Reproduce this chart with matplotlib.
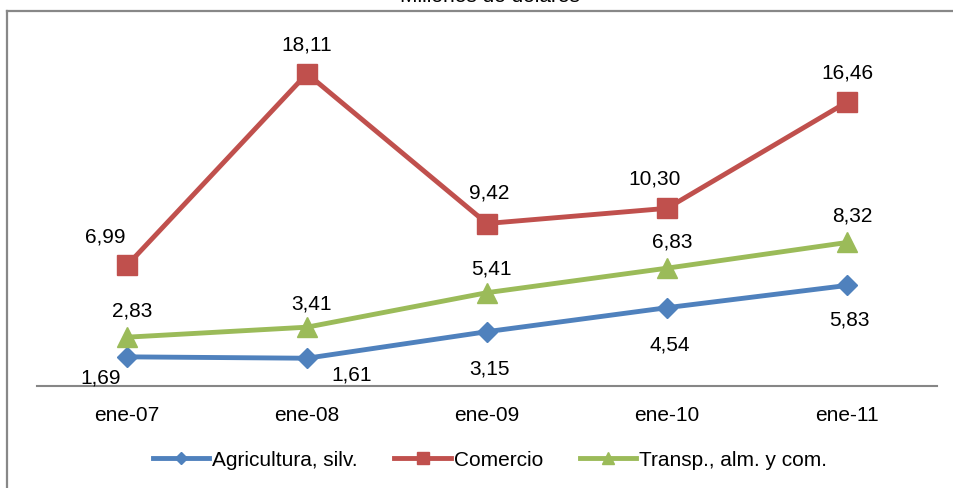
import matplotlib
matplotlib.use("Agg")
import matplotlib.pyplot as plt
from matplotlib.lines import Line2D

plt.rcParams['font.family'] = ['Liberation Sans', 'DejaVu Sans']

categories = ["ene-07", "ene-08", "ene-09", "ene-10", "ene-11"]
agricultura = [1.69, 1.61, 3.15, 4.54, 5.83]
comercio = [6.99, 18.11, 9.42, 10.30, 16.46]
transporte = [2.83, 3.41, 5.41, 6.83, 8.32]
series_names = ["Agricultura, silv.", "Comercio", "Transp., alm. y com."]
title = "Millones de dólares"

W, H = 954, 489
fig = plt.figure(figsize=(W / 100, H / 100), dpi=100)
ax = fig.add_axes([37 / W, (H - 387) / H, 900 / W, 345 / H])

x = [i + 0.5 for i in range(len(categories))]
blue, red, green = "#4F81BD", "#C0504D", "#9BBB59"

ax.plot(x, agricultura, color=blue, lw=3.5, marker="D", ms=10, label=series_names[0])
ax.plot(x, comercio, color=red, lw=3.5, marker="s", ms=14, label=series_names[1])
ax.plot(x, transporte, color=green, lw=3.5, marker="^", ms=14.5, label=series_names[2])

def fmt(v):
    return f"{v:.2f}".replace(".", ",")

fs = 15
# label offsets in points (dx, dy)
off_agri = [(-19, -14.5), (32, -11.5), (2, -26.5), (2, -26), (2, -24.5)]
off_com = [(-16, 21), (0, 21), (1.5, 23), (-9, 22), (0, 21.5)]
off_tra = [(3.5, 19.5), (3, 17.5), (3, 18), (3.5, 19.5), (4, 19.5)]
for vals, offs in ((agricultura, off_agri), (comercio, off_com), (transporte, off_tra)):
    for xi, v, (dx, dy) in zip(x, vals, offs):
        ax.annotate(fmt(v), (xi, v), xytext=(dx, dy), textcoords="offset points",
                    ha="center", va="center", fontsize=fs, color="black")

ax.set_xlim(0, 5)
ax.set_ylim(0, 20)
ax.set_xticks(x)
ax.set_xticklabels(categories, fontsize=fs)
ax.tick_params(axis="x", length=0, pad=13.5)
ax.set_yticks([])
for s in ("top", "right", "left"):
    ax.spines[s].set_visible(False)
ax.spines["bottom"].set_color("#868686")
ax.spines["bottom"].set_linewidth(1.5)

leg = fig.legend(loc="center", bbox_to_anchor=(490 / W, (H - 461) / H), ncol=3,
                 frameon=False, fontsize=fs, handlelength=2.7, handletextpad=0.15,
                 columnspacing=1.75, markerscale=0.6)

# outer frame edges
fig.add_artist(Line2D([7.5 / W, 7.5 / W], [0, (H - 12) / H], color="#888888", lw=1.6,
                      transform=fig.transFigure))
fig.add_artist(Line2D([7.5 / W, 1], [(H - 12) / H, (H - 12) / H], color="#888888", lw=1.6,
                      transform=fig.transFigure))
fig.text(490 / W, (H - 1.5) / H, title, ha="center", va="baseline", fontsize=15)

fig.savefig("out.png", dpi=100, facecolor="white")
